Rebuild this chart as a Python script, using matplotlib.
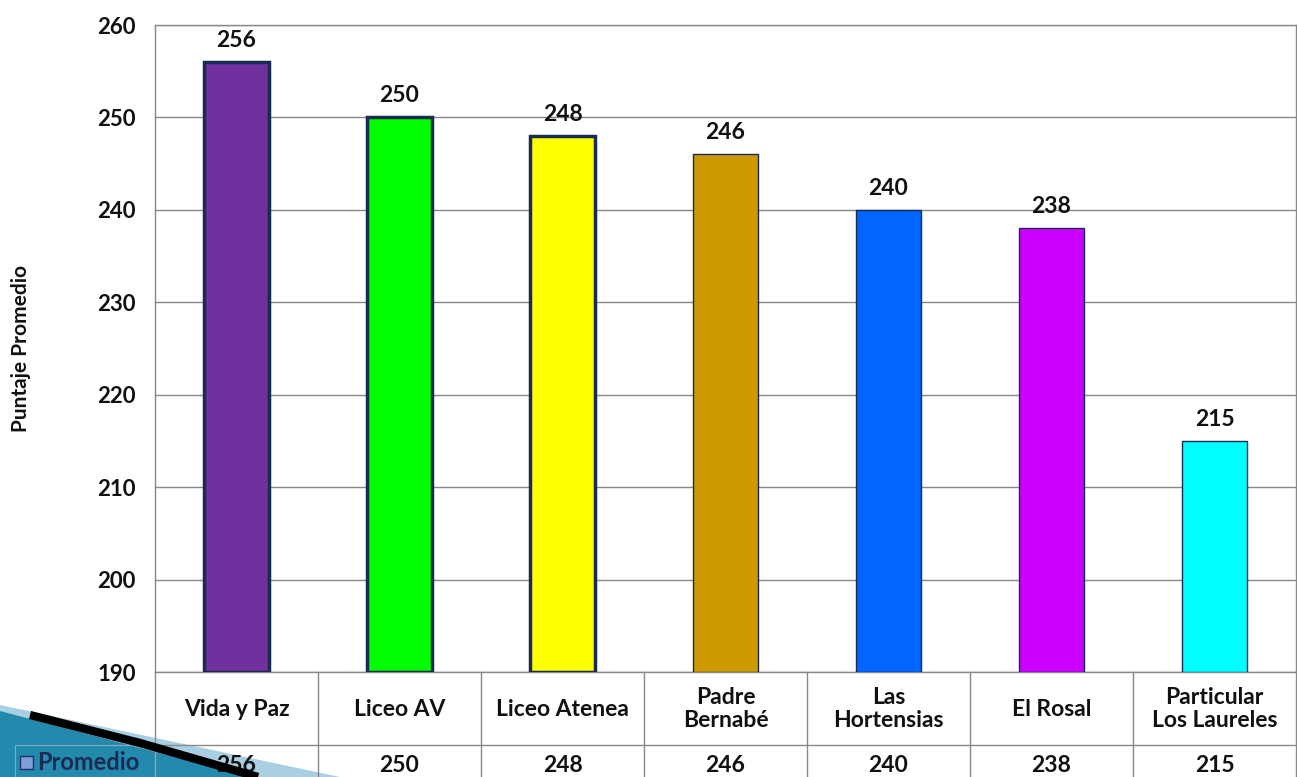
import matplotlib.pyplot as plt
import matplotlib.patches as mpatches
from matplotlib.lines import Line2D
import numpy as np

categories = ["Vida y Paz", "Liceo AV", "Liceo Atenea", "Padre\nBernabé",
              "Las\nHortensias", "El Rosal", "Particular\nLos Laureles"]
values = [256, 250, 248, 246, 240, 238, 215]
colors = ["#7030A0", "#00FF00", "#FFFF00", "#CC9900", "#0066FF", "#CC00FF", "#00FFFF"]
edge_widths = [2.5, 2.5, 2.5, 1.0, 1.0, 1.0, 1.0]
series_name = "Promedio"
yticks = [190, 200, 210, 220, 230, 240, 250, 260]

plt.rcParams['font.family'] = ['Lato', 'DejaVu Sans']
FW = "bold"

W, H = 1297, 777
fig = plt.figure(figsize=(W / 100, H / 100), dpi=100)
fig.patch.set_facecolor("white")

left, right, top, bottom = 155, 1296, 25, 672
ax = fig.add_axes([left / W, 1 - bottom / H, (right - left) / W, (bottom - top) / H])

x = np.arange(len(categories))
bars = ax.bar(x, [v - 190 for v in values], bottom=190, width=0.4, color=colors,
              edgecolor="#1a2a50", zorder=3)
for b, lw in zip(bars, edge_widths):
    b.set_linewidth(lw)

for xi, v in zip(x, values):
    ax.annotate(str(v), (xi, v), xytext=(0, 8), textcoords="offset points",
                ha="center", va="bottom", fontsize=16.5, fontweight=FW, color="#111111")

ax.set_xlim(-0.5, len(categories) - 0.5)
ax.set_ylim(190, 260)
ax.set_yticks(yticks)
ax.set_yticklabels([str(t) for t in yticks], fontsize=16, fontweight=FW, color="#111111")
ax.tick_params(axis="y", length=0, pad=14)
ax.set_xticks([])
ax.grid(axis="y", color="#888888", linewidth=1.0, zorder=0)
for s in ["top", "right", "left", "bottom"]:
    ax.spines[s].set_color("#888888")
    ax.spines[s].set_linewidth(1.0)


def fy(py):
    return 1 - py / H


def fx(px):
    return px / W


fig.text(fx(21), fy(348), "Puntaje Promedio", rotation=90, ha="center", va="center",
         fontsize=15, fontweight="bold", color="#111111")

# swoosh decoration (bottom-left)
swoosh_light = mpatches.Polygon([(fx(0), fy(705)), (fx(0), fy(777)), (fx(340), fy(777))],
                                closed=True, transform=fig.transFigure,
                                facecolor="#a9d0e2", edgecolor="none", zorder=-2)
swoosh_dark = mpatches.Polygon([(fx(0), fy(711)), (fx(0), fy(777)), (fx(250), fy(777))],
                               closed=True, transform=fig.transFigure,
                               facecolor="#238aae", edgecolor="none", zorder=-1)
fig.patches.extend([swoosh_light, swoosh_dark])
fig.lines.append(Line2D([fx(30), fx(140), fx(258)], [fy(715), fy(743), fy(777)],
                        transform=fig.transFigure, color="black", linewidth=6,
                        solid_capstyle="butt", zorder=2))

trans = ax.get_xaxis_transform()
row1_bottom = 745
ax_h = bottom - top


def ay(py):
    return (bottom - py) / ax_h


# vertical separators
for i in range(len(categories) + 1):
    ax.plot([i - 0.5, i - 0.5], [ay(bottom), ay(H + 5)], transform=trans,
            color="#888888", linewidth=1.0, clip_on=False)
# horizontal separator
ax.plot([-0.5, len(categories) - 0.5], [ay(row1_bottom), ay(row1_bottom)], transform=trans,
        color="#888888", linewidth=1.0, clip_on=False)

for xi, c, v in zip(x, categories, values):
    ax.text(xi, ay(709), c, transform=trans, ha="center", va="center",
            fontsize=16.5, fontweight=FW, linespacing=1.15, clip_on=False, color="#111111")
    ax.text(xi, ay(765), str(v), transform=trans, ha="center", va="center",
            fontsize=16.5, fontweight=FW, clip_on=False, color="#111111")

# legend cell
fig.patches.append(mpatches.Rectangle((fx(15), fy(777)), fx(140), fy(745) - fy(777),
                                      transform=fig.transFigure, facecolor="none",
                                      edgecolor="#8aa8b8", linewidth=0.8, zorder=1))
fig.patches.append(mpatches.Rectangle((fx(20), fy(769)), fx(13), fy(756) - fy(769),
                                      transform=fig.transFigure, facecolor="#7f9fd8",
                                      edgecolor="#203070", linewidth=1.0, zorder=3))
fig.text(fx(37), fy(763), series_name, ha="left", va="center", fontsize=17,
         fontweight="bold", color="#1a2a50", zorder=3)

fig.savefig("out.png", dpi=100)
